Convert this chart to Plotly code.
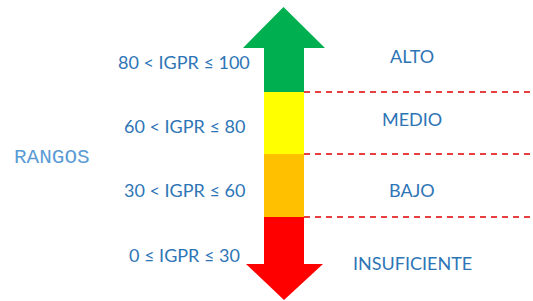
import plotly.graph_objects as go

# Data (top to bottom)
categories = ["ALTO", "MEDIO", "BAJO", "INSUFICIENTE"]
range_labels = ["80 < IGPR ≤ 100", "60 < IGPR ≤ 80", "30 < IGPR ≤ 60", "0 ≤ IGPR ≤ 30"]
band_colors = ["#00B050", "#FFFF00", "#FFC000", "#FF0000"]
side_title = "RANGOS"

# Layout geometry (pixel-like coordinates, y downward)
W, H = 533, 301
bounds = [92, 154, 217]          # band separators
shaft = (264, 304)
label_y = [62, 126, 190, 255]
cat_y = [56, 119, 190, 263]

fig = go.Figure()
shapes = []
x0, x1 = shaft
# green up arrow
shapes.append(dict(type="path",
    path=f"M{x0},{bounds[0]} L{x0},48 L243,48 L283.5,7 L325,48 L{x1},48 L{x1},{bounds[0]} Z",
    fillcolor=band_colors[0], line=dict(width=0)))
# middle bands
shapes.append(dict(type="rect", x0=x0, x1=x1, y0=bounds[0], y1=bounds[1],
                   fillcolor=band_colors[1], line=dict(width=0)))
shapes.append(dict(type="rect", x0=x0, x1=x1, y0=bounds[1], y1=bounds[2],
                   fillcolor=band_colors[2], line=dict(width=0)))
# red down arrow
shapes.append(dict(type="path",
    path=f"M{x0},{bounds[2]} L{x0},264 L246,264 L284,300 L323,264 L{x1},264 L{x1},{bounds[2]} Z",
    fillcolor=band_colors[3], line=dict(width=0)))
# dashed separators
for b in bounds:
    shapes.append(dict(type="line", x0=x1, x1=W, y0=b, y1=b,
                       line=dict(color="#E00000", width=1.5, dash="6px,5px")))

annotations = []
for lab, y in zip(range_labels, label_y):
    annotations.append(dict(x=184, y=y, text=lab, showarrow=False, xanchor="center",
                            yanchor="middle", font=dict(family="Lato", size=18, color="#2E75B6")))
for cat, y in zip(categories, cat_y):
    annotations.append(dict(x=412, y=y, text=cat, showarrow=False, xanchor="center",
                            yanchor="middle", font=dict(family="Lato", size=18, color="#2E75B6")))
annotations.append(dict(x=12, y=157, text=side_title, showarrow=False, xanchor="left",
                        yanchor="middle",
                        font=dict(family="Liberation Mono, DejaVu Sans Mono, monospace",
                                  size=21, color="#5B9BD5")))

fig.update_layout(
    width=W, height=H, margin=dict(l=0, r=0, t=0, b=0),
    paper_bgcolor="white", plot_bgcolor="white",
    xaxis=dict(range=[0, W], visible=False, fixedrange=True),
    yaxis=dict(range=[H, 0], visible=False, fixedrange=True),
    shapes=shapes, annotations=annotations, showlegend=False,
)
fig.write_html("out.html", config=dict(displayModeBar=False),
               post_script="document.body.style.margin='0';")
